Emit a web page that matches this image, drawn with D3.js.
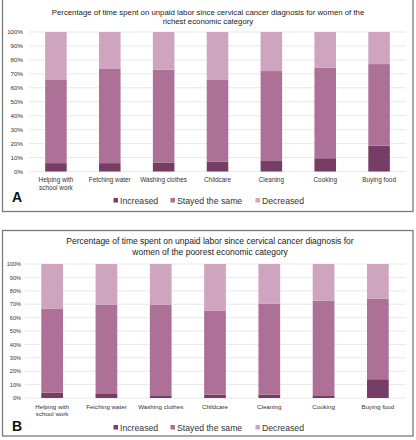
<!DOCTYPE html>
<html><head><meta charset="utf-8">
<script src="https://cdn.jsdelivr.net/npm/d3@7/dist/d3.min.js"></script>
<style>body{margin:0;background:#fff}svg{display:block;font-family:"Liberation Sans",Arial,sans-serif}</style>
</head><body><svg id="c" width="416" height="440"></svg>
<script>
const categories = ["Helping with school work","Fetching water","Washing clothes","Childcare","Cleaning","Cooking","Buying food"];
const seriesNames = ["Increased","Stayed the same","Decreased"];
const yTicks = [0,10,20,30,40,50,60,70,80,90,100];
// Panel A: richest
const richIncreased = [6, 6, 6.5, 7, 7.5, 9.5, 18.5];
const richStayed    = [60, 67.5, 66.5, 59, 64.5, 65, 58.5];
const richDecreased = [34, 26.5, 27, 34, 28, 25.5, 23];
// Panel B: poorest
const poorIncreased = [4, 3, 2, 2.5, 2.5, 2, 14];
const poorStayed    = [62.5, 66.5, 67.5, 62.5, 68, 70.5, 60];
const poorDecreased = [33.5, 30.5, 30.5, 35, 29.5, 27.5, 26];
const titleA = ["Percentage of time spent on unpaid labor since cervical cancer diagnosis for women of the","richest economic category"];
const titleB = ["Percentage of time spent on unpaid labor since cervical cancer diagnosis for","women of the poorest economic category"];

const colors = ["url(#pat)","#ad7198","#cea4be"];
const legendColors = ["#7b3f66","#ad7198","#cea4be"];
const svg = d3.select("#c");
const defs = svg.append("defs");
const pat = defs.append("pattern").attr("id","pat").attr("patternUnits","userSpaceOnUse").attr("width",2).attr("height",2);
pat.append("rect").attr("width",2).attr("height",2).attr("fill","#7d4168");
pat.append("rect").attr("width",1).attr("height",1).attr("fill","#713860");
pat.append("rect").attr("x",1).attr("y",1).attr("width",1).attr("height",1).attr("fill","#713860");

function panel(cfg){
  const g = svg.append("g");
  g.append("rect").attr("x",cfg.box[0]).attr("y",cfg.box[1]).attr("width",cfg.box[2]).attr("height",cfg.box[3])
    .attr("fill","none").attr("stroke","#7a7a7a").attr("stroke-width",1.3);
  cfg.title.forEach((t,i)=>g.append("text").attr("x",cfg.titleX).attr("y",cfg.titleY+i*cfg.titleLH)
    .attr("text-anchor","middle").attr("font-size",cfg.titleSize).attr("fill","#222").text(t));
  const x = d3.scaleBand().domain(categories).range(cfg.xr).paddingInner(0.6).paddingOuter(0.3);
  const y = d3.scaleLinear().domain([0,100]).range(cfg.yr);
  // grid
  g.append("g").selectAll("line").data(yTicks).join("line")
    .attr("x1",cfg.gx[0]).attr("x2",cfg.gx[1]).attr("y1",d=>y(d)).attr("y2",d=>y(d))
    .attr("stroke","#e2e2e2").attr("stroke-width",0.8);
  const yAxis = g.append("g").attr("transform",`translate(${cfg.gx[0]},0)`)
    .call(d3.axisLeft(y).tickValues(yTicks).tickFormat(d=>d+"%").tickSize(0).tickPadding(cfg.tickPad));
  yAxis.select(".domain").remove();
  yAxis.selectAll("text").attr("font-size",cfg.tickSize).attr("fill","#333").attr("font-family","Liberation Sans, Arial, sans-serif");
  const table = categories.map((c,i)=>({cat:c,"Increased":cfg.data[0][i],"Stayed the same":cfg.data[1][i],"Decreased":cfg.data[2][i]}));
  const stacked = d3.stack().keys(seriesNames)(table);
  g.append("g").selectAll("g").data(stacked).join("g").attr("fill",(d,i)=>colors[i])
    .selectAll("rect").data(d=>d).join("rect")
    .attr("x",d=>x(d.data.cat)).attr("width",x.bandwidth())
    .attr("y",d=>y(d[1])).attr("height",d=>y(d[0])-y(d[1]));
  // x labels
  const xl = g.append("g");
  categories.forEach(c=>{
    const lines = c==="Helping with school work" ? ["Helping with","school work"] : [c];
    lines.forEach((l,j)=>xl.append("text").attr("x",x(c)+x.bandwidth()/2).attr("y",cfg.xlY+j*cfg.xlLH)
      .attr("text-anchor","middle").attr("font-size",cfg.xlSize).attr("fill","#333").text(l));
  });
  // letter
  g.append("text").attr("x",cfg.letter[1]).attr("y",cfg.letter[2]).attr("font-size",14).attr("font-weight","bold")
    .attr("fill","#111").text(cfg.letter[0]);
  // legend
  const lg = g.append("g");
  const lx = [113.5,170.5,255.5];
  seriesNames.forEach((s,i)=>{
    lg.append("rect").attr("x",lx[i]).attr("y",cfg.legY-5.5).attr("width",4.5).attr("height",4.5).attr("fill",legendColors[i]);
    lg.append("text").attr("x",lx[i]+6.5).attr("y",cfg.legY).attr("font-size",8.7).attr("fill","#333").text(s);
  });
}
panel({box:[2.5,-1,410.5,212.5],title:titleA,titleX:208,titleY:14.5,titleLH:9.5,titleSize:7.8,
  xr:[29,406],yr:[171.5,32],gx:[29,406],tickPad:6,tickSize:6.2,xlY:182,xlLH:8,xlSize:6.4,
  letter:["A",12,202],legY:203.5,data:[richIncreased,richStayed,richDecreased]});
panel({box:[2.5,230.5,410.5,205.5],title:titleB,titleX:210,titleY:244,titleLH:10.5,titleSize:8.5,
  xr:[25,405],yr:[398,264],gx:[25,406],tickPad:4,tickSize:5.6,xlY:408.5,xlLH:7.5,xlSize:6.2,
  letter:["B",12,431],legY:430.5,data:[poorIncreased,poorStayed,poorDecreased]});
</script></body></html>
